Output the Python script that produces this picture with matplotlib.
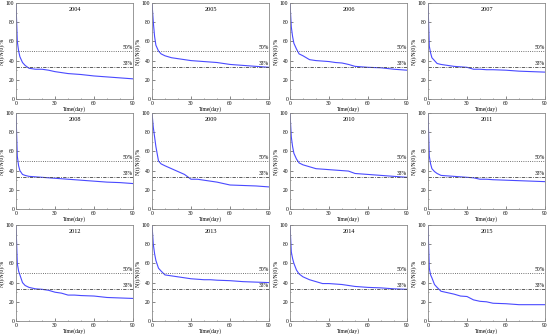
import numpy as np
import matplotlib
matplotlib.use('Agg')
import matplotlib.pyplot as plt
from matplotlib.ticker import MultipleLocator

plt.rcParams['font.family'] = ['Liberation Serif', 'DejaVu Serif']

# sample times (day) shared by all years
t = [0, 1, 2, 3, 5, 7, 10, 15, 20, 25, 30, 35, 40, 45, 50, 60, 70, 80, 90]

years = ['2004', '2005', '2006', '2007', '2008', '2009',
         '2010', '2011', '2012', '2013', '2014', '2015']

v2004 = [100, 60, 50, 44, 38, 35, 32, 31, 31, 30, 28.5, 27.5, 26.5, 26, 25.5, 24, 23, 22, 21]
v2005 = [100, 80, 65, 56, 50, 47, 45, 43, 42, 41, 40, 39.5, 39, 38.5, 38, 36, 35, 34, 33]
v2006 = [100, 75, 65, 58, 52, 47, 45, 41, 40, 39.5, 39, 38, 37.5, 36, 34, 33, 32.5, 31, 30]
v2007 = [100, 55, 48, 43, 40, 37, 36, 35, 34, 33.5, 33, 31, 31, 30.5, 30.5, 30, 29, 28.5, 28]
v2008 = [100, 55, 45, 40, 36, 35, 34, 33.5, 33, 32.5, 32, 31.5, 31, 30.5, 30, 29, 28, 27.5, 26.5]
v2009 = [100, 85, 75, 65, 50, 47, 45, 42, 39, 36, 31, 31, 30, 29, 28, 25, 24.5, 24, 23]
v2010 = [100, 75, 65, 58, 52, 48, 46, 44, 42, 41.5, 41, 40.5, 40, 39.5, 37, 36, 35, 34, 33]
v2011 = [100, 55, 47, 42, 39, 37, 35, 34.5, 34, 33.5, 33, 32.5, 31, 31, 30.5, 30, 29.5, 29, 28.5]
v2012 = [100, 60, 52, 48, 40, 37, 35, 33.5, 33, 32, 30, 29, 27, 27, 26.5, 26, 24.5, 24, 23.5]
v2013 = [100, 80, 70, 63, 55, 52, 48, 47, 46, 45, 44, 43.5, 43, 43, 42.5, 42, 41, 40.5, 40]
v2014 = [100, 72, 65, 60, 53, 49, 46, 43, 41, 39, 39, 38.5, 38, 37, 36, 35, 34.5, 33.5, 33]
v2015 = [100, 55, 48, 45, 38, 35, 31, 29.5, 28, 26, 25.5, 22, 20.5, 20, 18.5, 18, 17, 17, 17]

series = [v2004, v2005, v2006, v2007, v2008, v2009,
          v2010, v2011, v2012, v2013, v2014, v2015]

fig = plt.figure(figsize=(5.5, 3.34), dpi=100)

col_left = [16, 152, 290, 428]
row_top = [3, 113, 225]
w, h = 117, 96

for i, (yr, vals) in enumerate(zip(years, series)):
    r, c = divmod(i, 4)
    ax = fig.add_axes([col_left[c] / 550, 1 - (row_top[r] + h) / 334, w / 550, h / 334])
    ax.plot(t, vals, color='#4a4aff', lw=0.8)
    ax.axhline(50, color='#444444', lw=0.6, ls=':')
    ax.axhline(33, color='#444444', lw=0.6, ls=(0, (4, 1.5, 1, 1.5)))
    ax.text(86, 51, '50%', fontsize=4, ha='center', va='bottom')
    ax.text(86, 34, '33%', fontsize=4, ha='center', va='bottom')
    ax.text(45, 93, yr, fontsize=4.5, ha='center', va='center')
    ax.set_xlim(0, 90)
    ax.set_ylim(0, 100)
    ax.set_xticks([0, 30, 60, 90])
    ax.set_yticks([0, 20, 40, 60, 80, 100])
    ax.xaxis.set_minor_locator(MultipleLocator(10))
    ax.yaxis.set_minor_locator(MultipleLocator(10))
    ax.tick_params(which='both', direction='in', labelsize=4, pad=1.2,
                   top=False, right=False, color='#555555')
    ax.tick_params(which='major', length=2, width=0.5)
    ax.tick_params(which='minor', length=1, width=0.4)
    ax.set_xlabel('Time(day)', fontsize=4, labelpad=0.5)
    ax.set_ylabel('N(t)/N(0)/%', fontsize=4, labelpad=0.5)
    for s in ax.spines.values():
        s.set_color('#888888')
        s.set_linewidth(0.6)

fig.savefig('out.png', dpi=100)
